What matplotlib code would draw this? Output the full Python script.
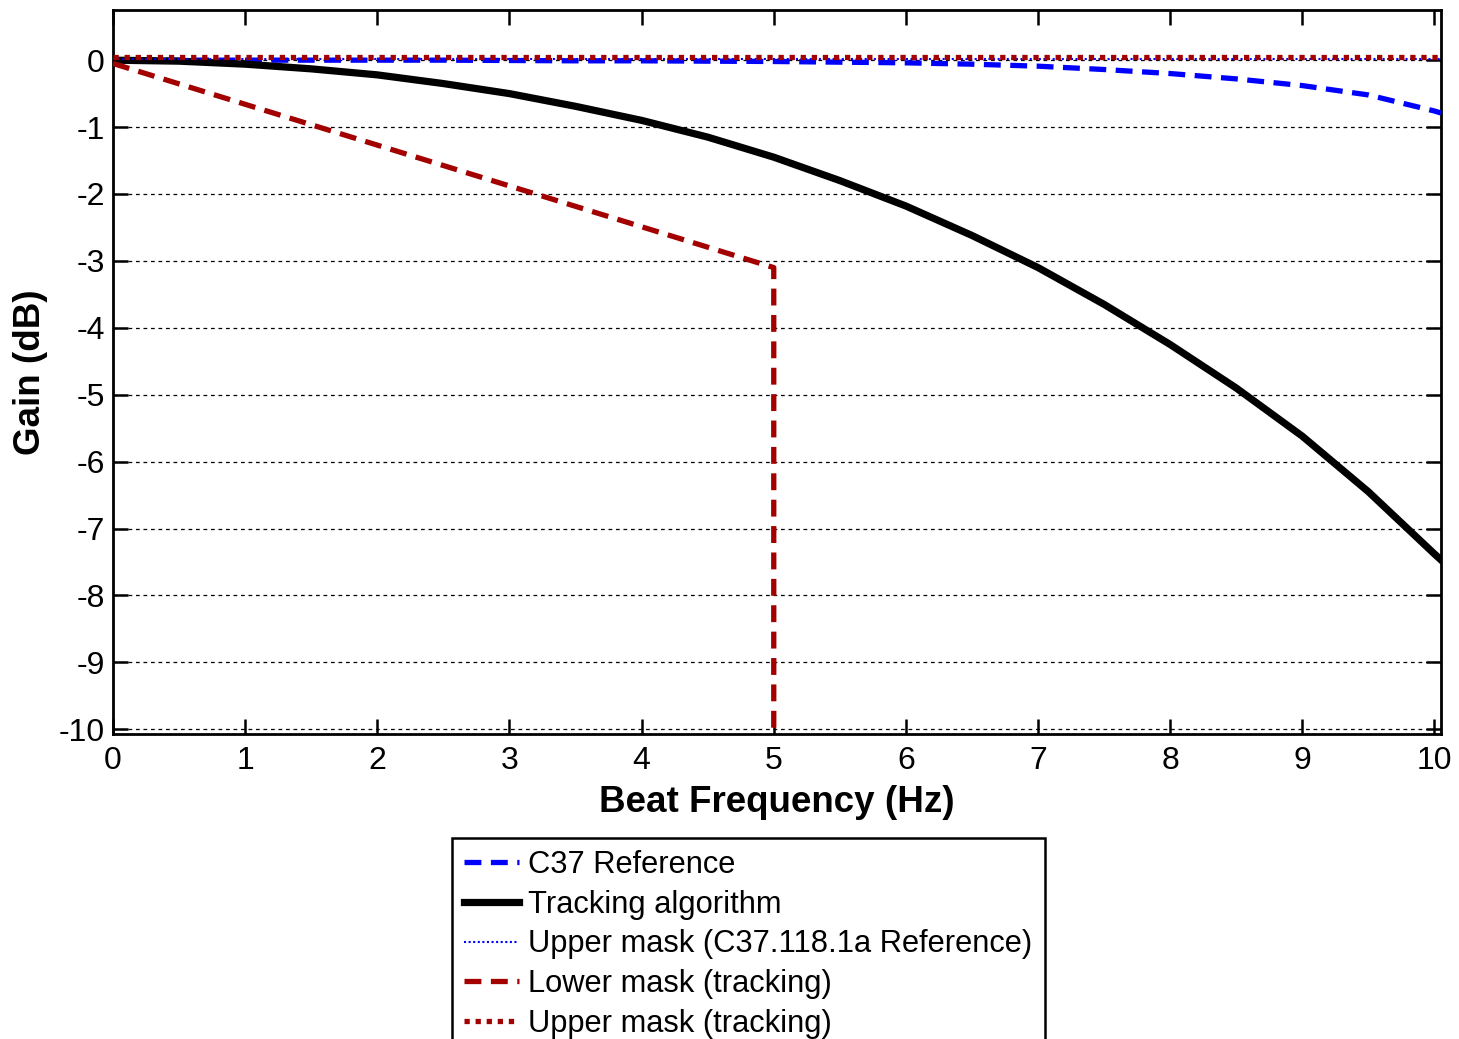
import matplotlib
matplotlib.use("Agg")
import matplotlib.pyplot as plt
import numpy as np

plt.rcParams['font.family'] = ['Liberation Sans', 'DejaVu Sans']

# Data
freq = [0, 0.5, 1, 1.5, 2, 2.5, 3, 3.5, 4, 4.5, 5, 5.5, 6, 6.5, 7, 7.5, 8, 8.5, 9, 9.5, 10, 10.05]
c37_ref = [0, 0, 0, 0, 0, 0, -0.005, -0.01, -0.01, -0.015, -0.02, -0.03, -0.04, -0.06, -0.09, -0.14, -0.2, -0.28, -0.38, -0.52, -0.76, -0.79]
tracking = [0, -0.015, -0.06, -0.13, -0.22, -0.35, -0.5, -0.69, -0.9, -1.15, -1.45, -1.8, -2.18, -2.62, -3.1, -3.65, -4.25, -4.9, -5.62, -6.45, -7.38, -7.47]
upper_c37_x = [0, 10.05]
upper_c37_y = [0.02, 0.02]
lower_mask_x = [0, 5, 5]
lower_mask_y = [-0.05, -3.1, -10.1]
upper_trk_x = [0, 10.05]
upper_trk_y = [0.04, 0.04]

xticks = list(range(0, 11))
yticks = list(range(-10, 1))

fig = plt.figure(figsize=(14.59, 10.39), dpi=100)
ax = fig.add_axes([0.0775, 0.2936, 0.9877 - 0.0775, 0.9904 - 0.2936])

ax.plot(freq, c37_ref, color='#0000FF', lw=3.8, ls=(0, (3.2, 1.8)), label='C37 Reference', zorder=3)
ax.plot(freq, tracking, color='black', lw=5.2, ls='-', label='Tracking algorithm', zorder=4)
ax.plot(upper_c37_x, upper_c37_y, color='#0000FF', lw=1.5, ls=(0, (1, 1.2)), label='Upper mask (C37.118.1a Reference)', zorder=5)
ax.plot(lower_mask_x, lower_mask_y, color='#A30000', lw=3.8, ls=(0, (3.2, 1.8)), label='Lower mask (tracking)', zorder=5)
ax.plot(upper_trk_x, upper_trk_y, color='#A30000', lw=3.8, ls=(0, (1, 1.1)), label='Upper mask (tracking)', zorder=6)

ax.set_xlim(0, 10.05)
ax.set_ylim(-10.07, 0.75)
ax.set_xticks(xticks)
ax.set_yticks(yticks)
ax.set_xticklabels([str(v) for v in xticks])
ax.set_yticklabels([str(v) for v in yticks])
ax.tick_params(direction='in', length=11, width=1.8, top=True, right=True, labelsize=23)
ax.tick_params(axis='x', pad=9)
ax.tick_params(axis='y', pad=6)
for s in ax.spines.values():
    s.set_linewidth(2)
ax.yaxis.grid(True, color='black', ls=(0, (3, 3)), lw=0.9)
ax.set_axisbelow(True)

ax.set_xlabel('Beat Frequency (Hz)', fontsize=26.5, fontweight='bold', labelpad=6)
ax.set_ylabel('Gain (dB)', fontsize=26.5, fontweight='bold', labelpad=8)

leg = ax.legend(loc='upper left', bbox_to_anchor=(0.3098, 0.1935), bbox_transform=fig.transFigure,
                borderaxespad=0, fontsize=22.2, handlelength=1.78, handletextpad=0.3,
                labelspacing=0.31, borderpad=0.4, fancybox=False, framealpha=1,
                edgecolor='black')
leg.get_frame().set_linewidth(1.8)

fig.savefig('out.png', dpi=100)
